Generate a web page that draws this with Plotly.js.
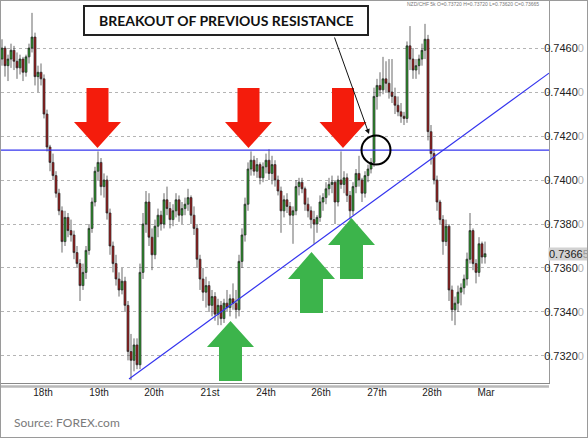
<!DOCTYPE html>
<html><head><meta charset="utf-8">
<script src="https://cdn.plot.ly/plotly-3.0.1.min.js"></script>
<style>
html,body{margin:0;padding:0;background:#fff}
#wrap{position:relative;width:588px;height:438px}
#chart{width:588px;height:438px}
#frame{position:absolute;left:0;top:0;width:586px;height:436px;border:1px solid #9a9a9a;pointer-events:none}
</style>
</head><body>
<div id="wrap"><div id="chart"></div><div id="frame"></div></div>
<script>
// ---- data (NZD/CHF candles) ----
const openP = [0.7455,0.7460,0.7452,0.7455,0.7459,0.7454,0.7451,0.7455,0.7449,0.7456,
0.7460,0.7465,0.7447,0.7449,0.7446,0.7430,0.7415,0.7408,0.7402,0.7394,
0.7386,0.7372,0.7383,0.7377,0.7375,0.7367,0.7362,0.7352,0.7358,0.7368,
0.7378,0.7390,0.7404,0.7408,0.7397,0.7400,0.7385,0.7370,0.7362,0.7355,
0.7350,0.7354,0.7343,0.7322,0.7318,0.7325,0.7316,0.7358,0.7380,0.7390,
0.7374,0.7366,0.7379,0.7384,0.7380,0.7391,0.7387,0.7382,0.7386,0.7391,
0.7384,0.7387,0.7389,0.7392,0.7384,0.7378,0.7364,0.7355,0.7349,0.7352,
0.7343,0.7347,0.7339,0.7343,0.7337,0.7344,0.7342,0.7346,0.7344,0.7341,
0.7363,0.7375,0.7389,0.7405,0.7409,0.7404,0.7407,0.7401,0.7406,0.7409,
0.7403,0.7407,0.7400,0.7395,0.7386,0.7391,0.7388,0.7384,0.7386,0.7397,
0.7399,0.7396,0.7389,0.7386,0.7382,0.7380,0.7383,0.7390,0.7392,0.7396,
0.7398,0.7399,0.7390,0.7400,0.7398,0.7401,0.7393,0.7386,0.7397,0.7403,
0.7400,0.7394,0.7402,0.7405,0.7408,0.7438,0.7443,0.7441,0.7446,0.7444,
0.7440,0.7438,0.7434,0.7431,0.7429,0.7428,0.7461,0.7455,0.7450,0.7452,
0.7455,0.7459,0.7464,0.7422,0.7412,0.7400,0.7390,0.7382,0.7372,0.7379,
0.7350,0.7341,0.7344,0.7349,0.7351,0.7355,0.7364,0.7377,0.7362,0.7358,
0.7371,0.7365];
const highP = [0.7464,0.7461,0.7457,0.7462,0.7461,0.7458,0.7457,0.7456,0.7457,0.7462,
0.7476,0.7467,0.7452,0.7453,0.7448,0.7432,0.7416,0.7412,0.7404,0.7396,
0.7388,0.7386,0.7385,0.7382,0.7377,0.7370,0.7364,0.7362,0.7370,0.7380,
0.7392,0.7406,0.7413,0.7410,0.7403,0.7402,0.7387,0.7372,0.7366,0.7358,
0.7360,0.7356,0.7345,0.7330,0.7328,0.7328,0.7362,0.7385,0.7395,0.7394,
0.7378,0.7382,0.7387,0.7386,0.7394,0.7397,0.7390,0.7389,0.7394,0.7393,
0.7390,0.7392,0.7396,0.7393,0.7388,0.7380,0.7366,0.7360,0.7356,0.7354,
0.7350,0.7349,0.7346,0.7345,0.7346,0.7350,0.7348,0.7353,0.7350,0.7366,
0.7378,0.7392,0.7408,0.7413,0.7411,0.7410,0.7408,0.7408,0.7412,0.7414,
0.7411,0.7409,0.7402,0.7397,0.7393,0.7394,0.7390,0.7388,0.7400,0.7401,
0.7401,0.7397,0.7392,0.7388,0.7386,0.7384,0.7393,0.7394,0.7399,0.7401,
0.7402,0.7400,0.7402,0.7413,0.7404,0.7403,0.7395,0.7399,0.7405,0.7411,
0.7401,0.7404,0.7407,0.7410,0.7442,0.7446,0.7449,0.7456,0.7454,0.7455,
0.7455,0.7442,0.7438,0.7435,0.7431,0.7463,0.7470,0.7460,0.7455,0.7457,
0.7462,0.7471,0.7466,0.7425,0.7414,0.7402,0.7391,0.7384,0.7382,0.7380,
0.7352,0.7347,0.7352,0.7353,0.7357,0.7367,0.7385,0.7378,0.7364,0.7374,
0.7372,0.7372];
const lowP = [0.7452,0.7447,0.7445,0.7451,0.7450,0.7446,0.7448,0.7445,0.7447,0.7453,
0.7458,0.7443,0.7440,0.7443,0.7428,0.7413,0.7404,0.7400,0.7392,0.7384,
0.7367,0.7370,0.7374,0.7372,0.7364,0.7360,0.7345,0.7350,0.7355,0.7366,
0.7376,0.7388,0.7400,0.7393,0.7392,0.7382,0.7366,0.7358,0.7352,0.7347,
0.7348,0.7340,0.7318,0.7309,0.7313,0.7314,0.7314,0.7355,0.7376,0.7370,
0.7359,0.7364,0.7374,0.7377,0.7378,0.7384,0.7378,0.7379,0.7383,0.7381,
0.7380,0.7384,0.7386,0.7380,0.7375,0.7360,0.7350,0.7345,0.7342,0.7340,
0.7338,0.7336,0.7334,0.7334,0.7335,0.7340,0.7338,0.7341,0.7337,0.7338,
0.7360,0.7372,0.7386,0.7402,0.7402,0.7401,0.7398,0.7399,0.7403,0.7400,
0.7398,0.7397,0.7393,0.7376,0.7383,0.7385,0.7380,0.7371,0.7384,0.7393,
0.7394,0.7386,0.7383,0.7378,0.7371,0.7376,0.7381,0.7386,0.7389,0.7393,
0.7394,0.7380,0.7388,0.7396,0.7394,0.7390,0.7382,0.7384,0.7394,0.7397,
0.7390,0.7392,0.7399,0.7403,0.7406,0.7432,0.7438,0.7439,0.7440,0.7437,
0.7435,0.7430,0.7429,0.7426,0.7425,0.7426,0.7450,0.7446,0.7446,0.7448,
0.7452,0.7455,0.7418,0.7407,0.7398,0.7386,0.7380,0.7366,0.7370,0.7345,
0.7336,0.7334,0.7340,0.7343,0.7348,0.7352,0.7362,0.7359,0.7353,0.7356,
0.7362,0.7362];
const closeP = [0.7460,0.7452,0.7455,0.7459,0.7454,0.7451,0.7455,0.7449,0.7456,0.7460,
0.7465,0.7447,0.7449,0.7446,0.7430,0.7415,0.7408,0.7402,0.7394,0.7386,
0.7372,0.7383,0.7377,0.7375,0.7367,0.7362,0.7352,0.7358,0.7368,0.7378,
0.7390,0.7404,0.7408,0.7397,0.7400,0.7385,0.7370,0.7362,0.7355,0.7350,
0.7354,0.7343,0.7322,0.7318,0.7325,0.7316,0.7358,0.7380,0.7390,0.7374,
0.7366,0.7379,0.7384,0.7380,0.7391,0.7387,0.7382,0.7386,0.7391,0.7384,
0.7387,0.7389,0.7392,0.7384,0.7378,0.7364,0.7355,0.7349,0.7352,0.7343,
0.7347,0.7339,0.7343,0.7337,0.7344,0.7342,0.7346,0.7344,0.7341,0.7363,
0.7375,0.7389,0.7405,0.7409,0.7404,0.7407,0.7401,0.7406,0.7409,0.7403,
0.7407,0.7400,0.7395,0.7386,0.7391,0.7388,0.7384,0.7386,0.7397,0.7399,
0.7396,0.7389,0.7386,0.7382,0.7380,0.7383,0.7390,0.7392,0.7396,0.7398,
0.7399,0.7390,0.7400,0.7398,0.7401,0.7393,0.7386,0.7397,0.7403,0.7400,
0.7394,0.7402,0.7405,0.7408,0.7438,0.7443,0.7441,0.7446,0.7444,0.7440,
0.7438,0.7434,0.7431,0.7429,0.7428,0.7461,0.7455,0.7450,0.7452,0.7455,
0.7459,0.7464,0.7422,0.7412,0.7400,0.7390,0.7382,0.7372,0.7379,0.7350,
0.7341,0.7344,0.7349,0.7351,0.7355,0.7364,0.7377,0.7362,0.7358,0.7371,
0.7365,0.73665];
const barIndex = closeP.map((_, i) => i);

const dayTickPos = [13.67, 32.33, 50.67, 69.33, 88, 106.33, 125, 143.33, 161.33];
const dayTickLabels = ['18th','19th','20th','21st','24th','26th','27th','28th','Mar'];
const priceTicks = [0.7320, 0.7340, 0.7360, 0.7380, 0.7400, 0.7420, 0.7440, 0.7460];
const priceTickMain = ['0.7320','0.7340','0.7360','0.7380','0.7400','0.7420','0.7440','0.7460'];
const resistanceLevel = 0.74136;
const trendX = [42.33, 182.33];
const trendY = [0.73095, 0.74486];
const lastPrice = 0.73665;
const headerText = 'NZD/CHF 5k O=0.73720 H=0.73720 L=0.73620 C=0.73665';
const calloutText = 'BREAKOUT OF PREVIOUS RESISTANCE';
const sourceText = 'Source: FOREX.com';

// ---- layout helpers (pixel -> paper) ----
const ML = 1, MR = 39, MT = 1, MB = 55, W = 588, H = 438;
const PW = W - ML - MR, PH = H - MT - MB;
const PX = x => (x - ML) / PW;
const PY = y => (H - MB - y) / PH;

function arrowPath(cx, tipY, baseY, endY, shaftHalf, headHalf) {
  const pts = [[cx, tipY],[cx+headHalf, baseY],[cx+shaftHalf, baseY],[cx+shaftHalf, endY],
               [cx-shaftHalf, endY],[cx-shaftHalf, baseY],[cx-headHalf, baseY]];
  return 'M' + pts.map(p => PX(p[0]).toFixed(5) + ',' + PY(p[1]).toFixed(5)).join('L') + 'Z';
}
const RED = '#f41c0c', GREEN = '#3cb44b', BLUE = '#3434ee';
const redArrows = [97.5, 248.5, 343].map(cx => ({type:'path', xref:'paper', yref:'paper',
  path: arrowPath(cx, 148, 122, 88, 11, 23.5), fillcolor: RED, line:{width:0}}));
const greenArrows = [[230.5,321,347,381],[311.5,252,279,313],[351.5,218,245,279]].map(a => ({type:'path', xref:'paper', yref:'paper',
  path: arrowPath(a[0], a[1], a[2], a[3], 11.5, 23.5), fillcolor: GREEN, line:{width:0}}));

const traces = [
  {type:'candlestick', x: barIndex, open: openP, high: highP, low: lowP, close: closeP,
   increasing:{line:{color:'#2a2a2a', width:0.7}, fillcolor:'#2f9a2f'},
   decreasing:{line:{color:'#2a2a2a', width:0.7}, fillcolor:'#a01e1e'},
   whiskerwidth: 0, hoverinfo:'skip', showlegend:false},
  {type:'scatter', mode:'lines', x: trendX, y: trendY, line:{color:BLUE, width:1.2},
   hoverinfo:'skip', showlegend:false}
];

const layout = {
  width: W, height: H,
  margin: {l: ML, r: MR, t: MT, b: MB},
  paper_bgcolor: 'rgba(0,0,0,0)', plot_bgcolor: '#fff',
  showlegend: false, boxgap: 0.05,
  font: {family: 'Arial, Liberation Sans, sans-serif', size: 11, color: '#222'},
  xaxis: {range: [-0.333, 182.33], tickmode:'array', tickvals: dayTickPos, ticktext: dayTickLabels,
    showgrid:false, zeroline:false, showline:true, linecolor:'#888', linewidth:1, ticks:'',
    tickfont:{family:'Arial, Liberation Sans, sans-serif', size:10, color:'#222'},
    rangeslider:{visible:false}, fixedrange:true},
  yaxis: {side:'right', range:[0.73077, 0.74814], tickmode:'array', tickvals: priceTicks,
    ticktext: priceTickMain.map(t => t + '<span style="color:#b0b0b0">0</span>'),
    showgrid:true, gridcolor:'#b4b4b4', griddash:'dot', gridwidth:1, zeroline:false,
    showline:true, linecolor:'#999', linewidth:1, ticks:'', ticklabelstandoff: -8,
    tickfont:{family:'Arial, Liberation Sans, sans-serif', size:11, color:'#222'}, fixedrange:true},
  shapes: [
    {type:'line', xref:'paper', yref:'y', x0:0, x1:1, y0:resistanceLevel, y1:resistanceLevel,
     line:{color:BLUE, width:1.2}},
    {type:'line', xref:'paper', yref:'paper', x0:0, x1:1, y0:PY(386.5), y1:PY(386.5),
     line:{color:'#b8b8b8', width:2.5}},
    ...redArrows, ...greenArrows,
    {type:'circle', xref:'paper', yref:'paper', x0:PX(361.5), x1:PX(390.5), y0:PY(135.5), y1:PY(164.5),
     line:{color:'#000', width:2}},
    {type:'rect', xref:'paper', yref:'paper', x0:PX(84), x1:PX(368), y0:PY(6), y1:PY(35),
     line:{color:'#222', width:2}, fillcolor:'#fff'}
  ],
  annotations: [
    {xref:'paper', yref:'paper', x:PX(226), y:PY(20.5), text:'<b>' + calloutText + '</b>', showarrow:false,
     font:{family:'Lato, Open Sans, sans-serif', size:14, color:'#111'}, xanchor:'center', yanchor:'middle'},
    {xref:'paper', yref:'paper', x:PX(369), y:PY(134), ax:-35, ay:-98, text:'', showarrow:true,
     arrowhead:2, arrowsize:1, arrowwidth:1, arrowcolor:'#111'},
    {xref:'paper', yref:'paper', x:PX(405), y:PY(4), text: headerText, showarrow:false,
     xanchor:'left', yanchor:'middle', font:{family:'Arial, sans-serif', size:5, color:'#777'}},
    {xref:'paper', yref:'y', x:1, y:lastPrice, xanchor:'left', yanchor:'middle', showarrow:false,
     text:'0.7366<span style="color:#999">5</span>', bgcolor:'#d2d2d2', borderpad:0, xshift:-1,
     font:{family:'Arial, Liberation Sans, sans-serif', size:11, color:'#222'}},
    {xref:'paper', yref:'paper', x:PX(12), y:PY(423), text: sourceText, showarrow:false,
     xanchor:'left', yanchor:'middle', font:{family:'Lato, sans-serif', size:12, color:'#7a7a7a'}}
  ]
};

Plotly.newPlot('chart', traces, layout, {displayModeBar:false, staticPlot:true});
</script>
</body></html>
